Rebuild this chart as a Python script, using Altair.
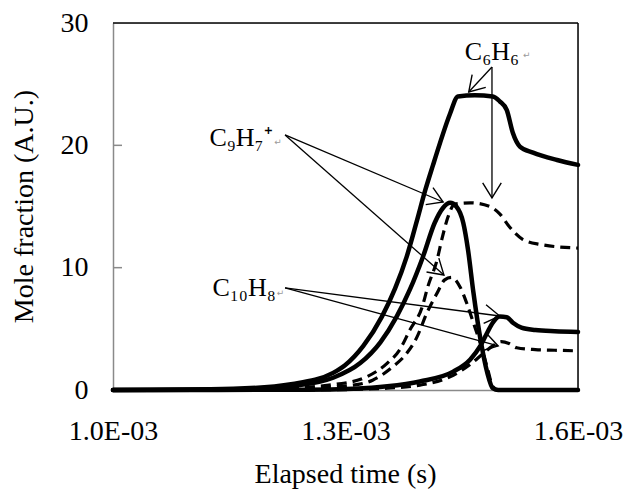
import math
import altair as alt
import pandas as pd

# ---- data (time in ms, i.e. x 1e-3 s ; mole fraction in A.U.) ----
c6h6_solid_t = [1.000, 1.155, 1.232, 1.284, 1.299, 1.323, 1.347, 1.364, 1.379, 1.392, 1.403, 1.413,
                1.422, 1.435, 1.445, 1.467, 1.490, 1.499, 1.508, 1.516, 1.525, 1.542, 1.573, 1.600]
c6h6_solid_y = [0, 0.1, 0.5, 1.4, 2.0, 3.6, 6.0, 8.3, 10.9, 13.8, 16.35, 18.4,
                20.2, 22.6, 24.0, 24.1, 24.0, 23.6, 22.9, 21.0, 19.9, 19.4, 18.8, 18.4]

c9h7_solid_t = [1.000, 1.155, 1.241, 1.284, 1.319, 1.345, 1.366, 1.383, 1.400, 1.415, 1.426, 1.435,
                1.443, 1.452, 1.458, 1.465, 1.474, 1.483, 1.490, 1.497, 1.600]
c9h7_solid_y = [0, 0.05, 0.4, 1.0, 2.2, 3.9, 6.0, 8.2, 10.9, 13.65, 14.9, 15.3,
                15.0, 13.65, 11.5, 8.0, 4.2, 1.4, 0.15, 0, 0]

c6h6_dash_t = [1.000, 1.190, 1.302, 1.328, 1.354, 1.370, 1.383, 1.399, 1.406, 1.418, 1.425, 1.432,
               1.441, 1.461, 1.486, 1.499, 1.512, 1.529, 1.551, 1.600]
c6h6_dash_y = [0, 0.05, 0.6, 1.1, 2.2, 3.3, 4.9, 6.8, 8.4, 10.6, 12.5, 14.1,
               15.2, 15.3, 15.0, 14.4, 13.3, 12.3, 11.9, 11.6]

c9h7_dash_t = [1.000, 1.203, 1.310, 1.335, 1.361, 1.379, 1.392, 1.405, 1.418, 1.428, 1.437, 1.448,
               1.457, 1.465, 1.474, 1.483, 1.490, 1.497, 1.600]
c9h7_dash_y = [0, 0.05, 0.4, 0.8, 1.9, 3.0, 4.3, 6.3, 7.9, 9.0, 9.2, 8.4,
               7.0, 5.5, 3.8, 1.8, 0.3, 0, 0]

c10h8_solid_t = [1.000, 1.250, 1.310, 1.354, 1.396, 1.439, 1.461, 1.474, 1.483, 1.490, 1.499,
                 1.508, 1.516, 1.527, 1.545, 1.570, 1.600]
c10h8_solid_y = [0, 0.02, 0.1, 0.3, 0.7, 1.5, 2.5, 3.6, 4.7, 5.5, 6.0,
                 5.95, 5.5, 5.1, 4.9, 4.8, 4.75]

c10h8_dash_t = [1.000, 1.280, 1.354, 1.396, 1.439, 1.461, 1.478, 1.490, 1.501, 1.511, 1.521,
                1.545, 1.570, 1.600]
c10h8_dash_y = [0, 0.02, 0.15, 0.4, 1.2, 2.1, 3.0, 3.6, 3.95, 3.8, 3.45,
                3.3, 3.25, 3.2]

x_ticks = [1.0e-3, 1.3e-3, 1.6e-3]
y_ticks = [0, 10, 20, 30]
x_domain = [1.0e-3, 1.6e-3]
y_domain = [0, 30]

# annotation labels (ms, A.U.)
label_text = ["C\u2086H\u2086", "C\u2089H\u2087\u207a", "C\u2081\u2080H\u2088"]
label_t = [1.454, 1.206, 1.210]
label_y = [27.6, 20.6, 8.34]
label_align = ["left", "right", "right"]

# paragraph marks after the labels (ms, A.U.)
mark_t = [1.534, 1.213, 1.216]
mark_y = [27.4, 20.3, 7.9]

# arrows: start -> tip (ms, A.U.)
arrow_t1 = [1.489, 1.489, 1.222, 1.222, 1.222, 1.222]
arrow_y1 = [26.4, 26.4, 20.85, 20.85, 8.34, 8.34]
arrow_t2 = [1.459, 1.489, 1.426, 1.427, 1.499, 1.497]
arrow_y2 = [24.36, 15.7, 15.37, 9.4, 6.05, 3.6]

# ---- layout ----
W, H = 465, 367
FONT = "Liberation Serif"

rows = []
for name, style, ts, ys in [
    ("C6H6 solid", "solid", c6h6_solid_t, c6h6_solid_y),
    ("C9H7 solid", "solid", c9h7_solid_t, c9h7_solid_y),
    ("C10H8 solid", "solid", c10h8_solid_t, c10h8_solid_y),
    ("C6H6 dash", "dash", c6h6_dash_t, c6h6_dash_y),
    ("C9H7 dash", "dash", c9h7_dash_t, c9h7_dash_y),
    ("C10H8 dash", "dash", c10h8_dash_t, c10h8_dash_y),
]:
    for t, y in zip(ts, ys):
        rows.append({"series": name, "style": style, "t": t * 1e-3, "y": y})
df = pd.DataFrame(rows)

px_x = W / (x_domain[1] - x_domain[0])
px_y = H / (y_domain[1] - y_domain[0])
arrows = []
for a, b, c, d in zip(arrow_t1, arrow_y1, arrow_t2, arrow_y2):
    dx = (c - a) * 1e-3 * px_x
    dy = -(d - b) * px_y
    ang = (math.degrees(math.atan2(dy, dx)) + 360) % 360
    arrows.append({"t1": a * 1e-3, "y1": b, "t2": c * 1e-3, "y2": d, "angle": ang})
arr_df = pd.DataFrame(arrows)

lab_df = pd.DataFrame({"text": label_text, "t": [v * 1e-3 for v in label_t],
                       "y": label_y, "align": label_align})
mark_df = pd.DataFrame({"t": [v * 1e-3 for v in mark_t], "y": mark_y})

xs = alt.Scale(domain=x_domain, nice=False, zero=False)
ys = alt.Scale(domain=y_domain, nice=False, zero=False)

x_axis = alt.Axis(values=x_ticks, labelExpr="format(datum.value*1000, '.1f') + 'E-03'",
                  title="Elapsed time (s)", ticks=False, grid=False, domainColor="#8a8a8a",
                  domainWidth=1.5, labelFont=FONT, labelFontSize=28, labelColor="black",
                  labelPadding=41, labelBaseline="middle", labelFlush=False, labelOverlap=False,
                  titleFont=FONT, titleFontSize=28, titleFontWeight="normal", titleColor="black",
                  titleX=232, titleY=84, titleBaseline="middle", titleAlign="center")
y_axis = alt.Axis(values=y_ticks, title="Mole fraction (A.U.)", ticks=False, grid=False,
                  domainColor="#8a8a8a", domainWidth=1.5, labelFont=FONT, labelFontSize=28,
                  labelColor="black", labelPadding=25, labelFlush=False, labelOverlap=False,
                  titleFont=FONT, titleFontSize=28, titleFontWeight="normal", titleColor="black",
                  titleX=-89, titleY=183, titleBaseline="middle", titleAlign="center", titleAngle=270)

base = alt.Chart(df)
solid = base.transform_filter(alt.datum.style == "solid").mark_line(
    color="black", strokeWidth=4.5, interpolate="monotone", strokeCap="round", strokeJoin="round"
).encode(x=alt.X("t:Q", scale=xs, axis=x_axis), y=alt.Y("y:Q", scale=ys, axis=y_axis),
         detail="series:N")
dashed = base.transform_filter(alt.datum.style == "dash").mark_line(
    color="black", strokeWidth=3.2, strokeDash=[10, 6], interpolate="monotone"
).encode(x=alt.X("t:Q", scale=xs), y=alt.Y("y:Q", scale=ys), detail="series:N")

# frame: top and right black borders
frame_top = alt.Chart(pd.DataFrame({"y": [y_domain[1]]})).mark_rule(color="black", strokeWidth=1.5).encode(
    y=alt.Y("y:Q", scale=ys), x=alt.value(0), x2=alt.value(W))
frame_right = alt.Chart(pd.DataFrame({"t": [x_domain[1]]})).mark_rule(color="black", strokeWidth=1.5).encode(
    x=alt.X("t:Q", scale=xs), y=alt.value(0), y2=alt.value(H))

# inward y ticks
yt = alt.Chart(pd.DataFrame({"y": y_ticks[1:-1]})).mark_rule(color="#8a8a8a", strokeWidth=1.5).encode(
    y=alt.Y("y:Q", scale=ys), x=alt.value(0), x2=alt.value(9))

arrow_lines = alt.Chart(arr_df).mark_rule(color="black", strokeWidth=1.3).encode(
    x=alt.X("t1:Q", scale=xs), y=alt.Y("y1:Q", scale=ys), x2="t2:Q", y2="y2:Q")
arrow_heads = alt.Chart(arr_df).mark_point(
    shape="M-1,-0.62L0,0L-1,0.62", filled=False, stroke="black", strokeWidth=1.4, size=900, opacity=1
).encode(x=alt.X("t2:Q", scale=xs), y=alt.Y("y2:Q", scale=ys), angle=alt.Angle("angle:Q", scale=None))

labels_left = alt.Chart(lab_df).transform_filter(alt.datum.align == "left").mark_text(
    font=FONT, fontSize=26, align="left", baseline="middle", color="black"
).encode(x=alt.X("t:Q", scale=xs), y=alt.Y("y:Q", scale=ys), text="text:N")
labels_right = alt.Chart(lab_df).transform_filter(alt.datum.align == "right").mark_text(
    font=FONT, fontSize=26, align="right", baseline="middle", color="black"
).encode(x=alt.X("t:Q", scale=xs), y=alt.Y("y:Q", scale=ys), text="text:N")
para_marks = alt.Chart(mark_df).mark_text(
    text="\u21b5", font="DejaVu Sans", fontSize=9, color="#9a9a9a", align="center", baseline="middle"
).encode(x=alt.X("t:Q", scale=xs), y=alt.Y("y:Q", scale=ys))

chart = alt.layer(frame_top, frame_right, yt, dashed, solid, arrow_lines, arrow_heads,
                  labels_left, labels_right, para_marks).properties(
    width=W, height=H,
    autosize=alt.AutoSizeParams(type="none"),
    padding={"left": 113, "top": 23, "right": 47, "bottom": 104},
).configure_view(strokeWidth=0).configure(background="white")

chart.save("out.html", embed_options={"renderer": "svg", "actions": False})
